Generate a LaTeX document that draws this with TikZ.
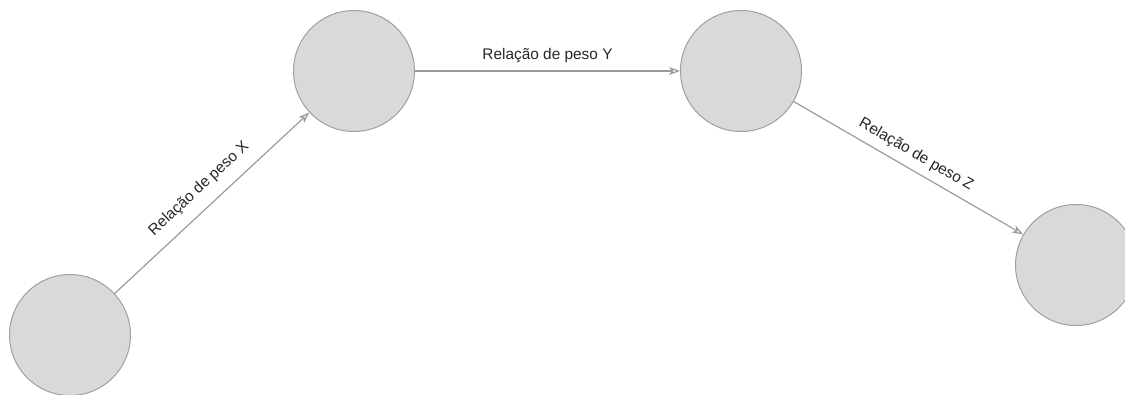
\documentclass[tikz,border=0pt]{standalone}
\usepackage{fontspec}
\setmainfont{Liberation Sans}
\usetikzlibrary{arrows.meta}
\definecolor{circlefill}{RGB}{217,217,217}
\definecolor{circlestroke}{RGB}{160,160,160}
\definecolor{linkgray}{RGB}{155,155,155}
\begin{document}
\begin{tikzpicture}[x=1pt,y=-1pt,
  vertex/.style={circle, draw=circlestroke, fill=circlefill, line width=1pt, minimum size=121pt, inner sep=0pt},
  link/.style={draw=linkgray, line width=1.2pt, -{Stealth[open, length=11pt, width=8pt, inset=3pt]}},
  lbl/.style={font=\fontsize{15.4}{18}\selectfont, text=black!85, sloped, midway}]
\useasboundingbox (0,0) rectangle (1125,394);
\node[vertex] (a) at (70,335) {};
\node[vertex] (b) at (354,71) {};
\node[vertex] (c) at (741,71) {};
\node[vertex] (d) at (1076,265) {};
\draw[link] (a) -- node[lbl, above=8pt] {Relação de peso X} (b);
\draw[link] (b) -- node[lbl, above=4pt] {Relação de peso Y} (c);
\draw[link] (c) -- node[lbl, above=4pt] {Relação de peso Z} (d);
\end{tikzpicture}
\end{document}
